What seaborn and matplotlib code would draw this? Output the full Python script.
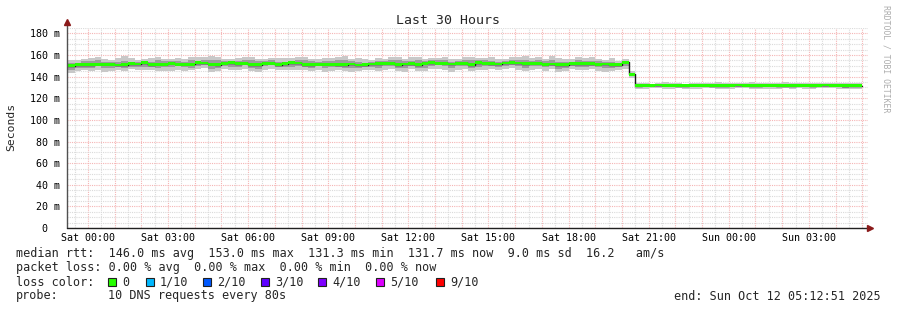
import numpy as np
import pandas as pd
import matplotlib
matplotlib.use("Agg")
import matplotlib.pyplot as plt
import matplotlib.dates as mdates
from matplotlib.ticker import MultipleLocator, FuncFormatter
from matplotlib.patches import Rectangle
import seaborn as sns

# ---------------- data ----------------
first_step = "2025-10-10 23:00"
step = "15min"
view_start = "2025-10-10 23:12:51"
view_end = "2025-10-12 05:12:51"

median_ms = [
    150.0, 150.3, 151.0, 151.2, 151.1, 151.5, 151.6, 151.4, 150.8, 150.9,
    151.8, 151.7, 153.0, 151.0, 151.4, 151.6, 152.5, 151.5, 151.6, 151.4,
    152.8, 152.6, 151.3, 151.2, 152.3, 153.0, 151.8, 152.5, 151.0, 151.1,
    152.5, 152.4, 151.0, 151.8, 152.8, 152.6, 151.0, 151.1, 151.5, 151.6,
    151.5, 151.0, 151.1, 151.7, 150.8, 150.9, 151.7, 151.8, 152.4, 152.3,
    151.0, 151.7, 151.8, 151.0, 152.4, 153.0, 152.4, 152.5, 151.7, 152.4,
    152.3, 151.0, 153.0, 152.4, 151.8, 151.7, 152.7, 152.8, 152.6, 151.8,
    152.4, 152.3, 151.6, 151.7, 151.0, 151.1, 152.0, 152.1, 151.9, 151.8,
    151.6, 151.7, 151.0, 151.2, 153.2,
    142.3,
    131.8, 131.9, 132.0, 132.2, 132.1, 131.9, 131.8, 131.7, 131.9, 132.0,
    132.1, 131.8, 131.6, 131.8, 132.0, 132.2, 131.9, 131.7, 131.8, 131.9,
    132.0, 131.7, 131.6, 131.8, 132.1, 132.0, 131.8, 131.9, 132.2, 132.1,
    131.9, 131.8, 131.7, 131.7,
]

smoke_outer_up = [
    6, 5, 4, 5, 6, 7, 5, 4, 6, 8,
    5, 4, 3, 6, 7, 5, 4, 6, 5, 7,
    5, 6, 8, 7, 4, 3, 5, 6, 7, 5,
    4, 5, 6, 5, 4, 6, 7, 5, 5, 6,
    6, 7, 8, 5, 6, 5, 4, 5, 4, 6,
    7, 5, 6, 7, 4, 4, 5, 6, 5, 4,
    6, 7, 4, 5, 6, 5, 4, 5, 6, 7,
    5, 6, 5, 7, 6, 5, 4, 6, 5, 6,
    5, 4, 6, 3, 3,
    3,
    2, 2, 1.5, 2, 3, 2, 2, 1.5, 2, 2.5,
    2, 2, 3, 2, 2, 1.5, 2, 3, 2.5, 2,
    2, 2.5, 3, 2, 2, 2, 2.5, 2, 1.5, 2,
    2, 2.5, 2, 2,
]

smoke_outer_dn = [
    6, 7, 6, 5, 6, 5, 7, 6, 5, 6,
    5, 6, 7, 5, 6, 6, 7, 5, 6, 5,
    6, 5, 7, 6, 5, 7, 6, 5, 6, 7,
    6, 5, 5, 6, 7, 6, 5, 6, 5, 7,
    6, 5, 6, 7, 6, 5, 6, 7, 6, 5,
    6, 7, 5, 6, 7, 6, 5, 6, 7, 6,
    5, 6, 7, 6, 5, 6, 6, 5, 6, 7,
    6, 5, 6, 5, 7, 6, 5, 6, 6, 5,
    6, 7, 6, 5, 6,
    4,
    3, 3, 2.5, 3, 3.5, 3, 2.5, 3, 3, 3.5,
    3, 2.5, 3, 3, 3.5, 3, 2.5, 3, 3, 3,
    3.5, 3, 2.5, 3, 3, 3.5, 3, 2.5, 3, 3,
    3, 3.5, 3, 3,
]

smoke_inner_up = [
    3, 2, 2, 3, 3, 4, 2, 2, 3, 4,
    2, 2, 1.5, 3, 4, 3, 2, 3, 2, 4,
    2, 3, 4, 4, 2, 1.5, 3, 3, 4, 3,
    2, 3, 3, 2, 2, 3, 4, 3, 2, 3,
    3, 4, 4, 3, 3, 2, 2, 3, 2, 3,
    4, 3, 3, 4, 2, 2, 3, 3, 2, 2,
    3, 4, 2, 3, 3, 2, 2, 3, 3, 4,
    2, 3, 3, 4, 3, 2, 2, 3, 3, 3,
    3, 2, 3, 1.5, 1.5,
    1.5,
    1, 1, 0.8, 1, 1.5, 1, 1, 0.8, 1, 1.2,
    1, 1, 1.5, 1, 1, 0.8, 1, 1.5, 1.2, 1,
    1, 1.2, 1.5, 1, 1, 1, 1.2, 1, 0.8, 1,
    1, 1.2, 1, 1,
]

smoke_inner_dn = [
    3, 4, 3, 3, 3, 2, 4, 3, 2, 3,
    3, 3, 4, 2, 3, 3, 4, 2, 3, 3,
    3, 2, 4, 3, 2, 4, 3, 2, 3, 4,
    3, 2, 2, 3, 4, 3, 2, 3, 2, 4,
    3, 2, 3, 4, 3, 2, 3, 4, 3, 2,
    3, 4, 2, 3, 4, 3, 2, 3, 4, 3,
    2, 3, 4, 3, 2, 3, 3, 2, 3, 4,
    3, 2, 3, 2, 4, 3, 2, 3, 3, 2,
    3, 4, 3, 2, 3,
    2,
    1.5, 1.5, 1.2, 1.5, 2, 1.5, 1.2, 1.5, 1.5, 2,
    1.5, 1.2, 1.5, 1.5, 2, 1.5, 1.2, 1.5, 1.5, 1.5,
    2, 1.5, 1.2, 1.5, 1.5, 2, 1.5, 1.2, 1.5, 1.5,
    1.5, 2, 1.5, 1.5,
]

title = "Last 30 Hours"
y_label = "Seconds"
stats_rtt = "median rtt:  146.0 ms avg  153.0 ms max  131.3 ms min  131.7 ms now  9.0 ms sd  16.2   am/s"
stats_loss = "packet loss: 0.00 % avg  0.00 % max  0.00 % min  0.00 % now"
loss_labels = ["0", "1/10", "2/10", "3/10", "4/10", "5/10", "9/10"]
loss_colors = ["#26ff00", "#00b8ff", "#0059ff", "#5e00ff", "#7e00ff", "#dd00ff", "#ff0000"]
probe_label = "probe:"
probe_text = "10 DNS requests every 80s"
end_text = "end: Sun Oct 12 05:12:51 2025"
watermark = "RRDTOOL / TOBI OETIKER"

# ---------------- frame ----------------
n = len(median_ms)
times = pd.date_range(first_step, periods=n + 1, freq=step)
med = np.array(median_ms + [median_ms[-1]], dtype=float)
ou = np.array(smoke_outer_up + [smoke_outer_up[-1]], dtype=float)
od = np.array(smoke_outer_dn + [smoke_outer_dn[-1]], dtype=float)
iu = np.array(smoke_inner_up + [smoke_inner_up[-1]], dtype=float)
idn = np.array(smoke_inner_dn + [smoke_inner_dn[-1]], dtype=float)
df = pd.DataFrame({"time": times, "median": med})
tx = times.to_pydatetime()

sns.set_theme(style="white")
plt.rcParams["font.family"] = ["DejaVu Sans Mono"]

W, H = 897, 310
fig = plt.figure(figsize=(W / 100, H / 100), dpi=100)
fig.patch.set_facecolor("white")
ax = fig.add_axes([67 / W, 1 - 228 / H, 801 / W, 200 / H])
ax.set_facecolor("white")

ax.fill_between(tx, med - od, med + ou, step="post", color="#c8c8c8", lw=0, zorder=2)
ax.fill_between(tx, med - idn, med + iu, step="post", color="#9c9c9c", lw=0, zorder=3)
sns.lineplot(data=df, x="time", y="median", drawstyle="steps-post", color="#1a1a1a",
             lw=1.0, ax=ax, zorder=4, estimator=None)
ax.fill_between(tx, med - 1.3, med + 1.3, step="post", color=loss_colors[0], lw=0, zorder=5)

ax.set_xlim(pd.Timestamp(view_start), pd.Timestamp(view_end))
ax.set_ylim(0, 185)
ax.set_xlabel("")
ax.set_ylabel("")

ax.xaxis.set_major_locator(mdates.HourLocator(interval=1))
ax.xaxis.set_minor_locator(mdates.MinuteLocator(byminute=[30]))


def xfmt(v, pos):
    d = mdates.num2date(v)
    return d.strftime("%a %H:%M") if (d.hour % 3 == 0 and d.minute == 0) else ""


ax.xaxis.set_major_formatter(FuncFormatter(xfmt))
ax.yaxis.set_major_locator(MultipleLocator(20))
ax.yaxis.set_minor_locator(MultipleLocator(5))
ax.yaxis.set_major_formatter(FuncFormatter(lambda v, p: "0  " if v == 0 else f"{v:.0f} m"))

ax.set_axisbelow(True)
ax.grid(which="minor", color="#dadada", linestyle=(0, (1, 1)), lw=0.8, zorder=0)
ax.grid(which="major", color="#f5b5b5", linestyle=(0, (1, 1)), lw=0.8, zorder=0.5)
ax.tick_params(axis="both", which="both", length=0, labelsize=7.2, labelcolor="black")
ax.tick_params(axis="y", pad=5)
ax.tick_params(axis="x", pad=3.5)
for s in ax.spines.values():
    s.set_visible(False)

# axes with arrows
ax.plot([0, 0], [0, 1.03], transform=ax.transAxes, color="#505050", lw=1, clip_on=False, zorder=6)
ax.plot([0, 1.0025], [0, 0], transform=ax.transAxes, color="#202020", lw=1, clip_on=False, zorder=6)
ax.plot([0], [1.03], marker="^", ms=4, color="#8b1a1a", transform=ax.transAxes, clip_on=False, zorder=7)
ax.plot([1.0025], [0], marker=">", ms=4, color="#8b1a1a", transform=ax.transAxes, clip_on=False, zorder=7)


def fx(px):
    return px / W


def fy(py):
    return 1 - py / H


fig.text(fx(448), fy(20), title, ha="center", va="center", size=9.5)
fig.text(fx(11), fy(127), y_label, ha="center", va="center", rotation=90, size=8.2)
fig.text(fx(886), fy(5), watermark, ha="center", va="top", rotation=270, size=5.9, color="#acacac")

legend_size = 8.5
fig.text(fx(16), fy(254), stats_rtt, ha="left", va="center", size=legend_size)
fig.text(fx(16), fy(268), stats_loss, ha="left", va="center", size=legend_size)
fig.text(fx(16), fy(282), "loss color:", ha="left", va="center", size=legend_size)
box_x = [108, 146, 203, 261, 318, 376, 436]
for bx, lab, col in zip(box_x, loss_labels, loss_colors):
    fig.patches.append(Rectangle((fx(bx), fy(286)), 8 / W, 8 / H, transform=fig.transFigure,
                                 facecolor=col, edgecolor="#202020", lw=0.8))
    fig.text(fx(bx + 14), fy(282), lab, ha="left", va="center", size=legend_size)
fig.text(fx(16), fy(296), probe_label, ha="left", va="center", size=legend_size)
fig.text(fx(108), fy(296), probe_text, ha="left", va="center", size=legend_size)
fig.text(fx(881), fy(296), end_text, ha="right", va="center", size=legend_size)

fig.savefig("out.png", dpi=100)
